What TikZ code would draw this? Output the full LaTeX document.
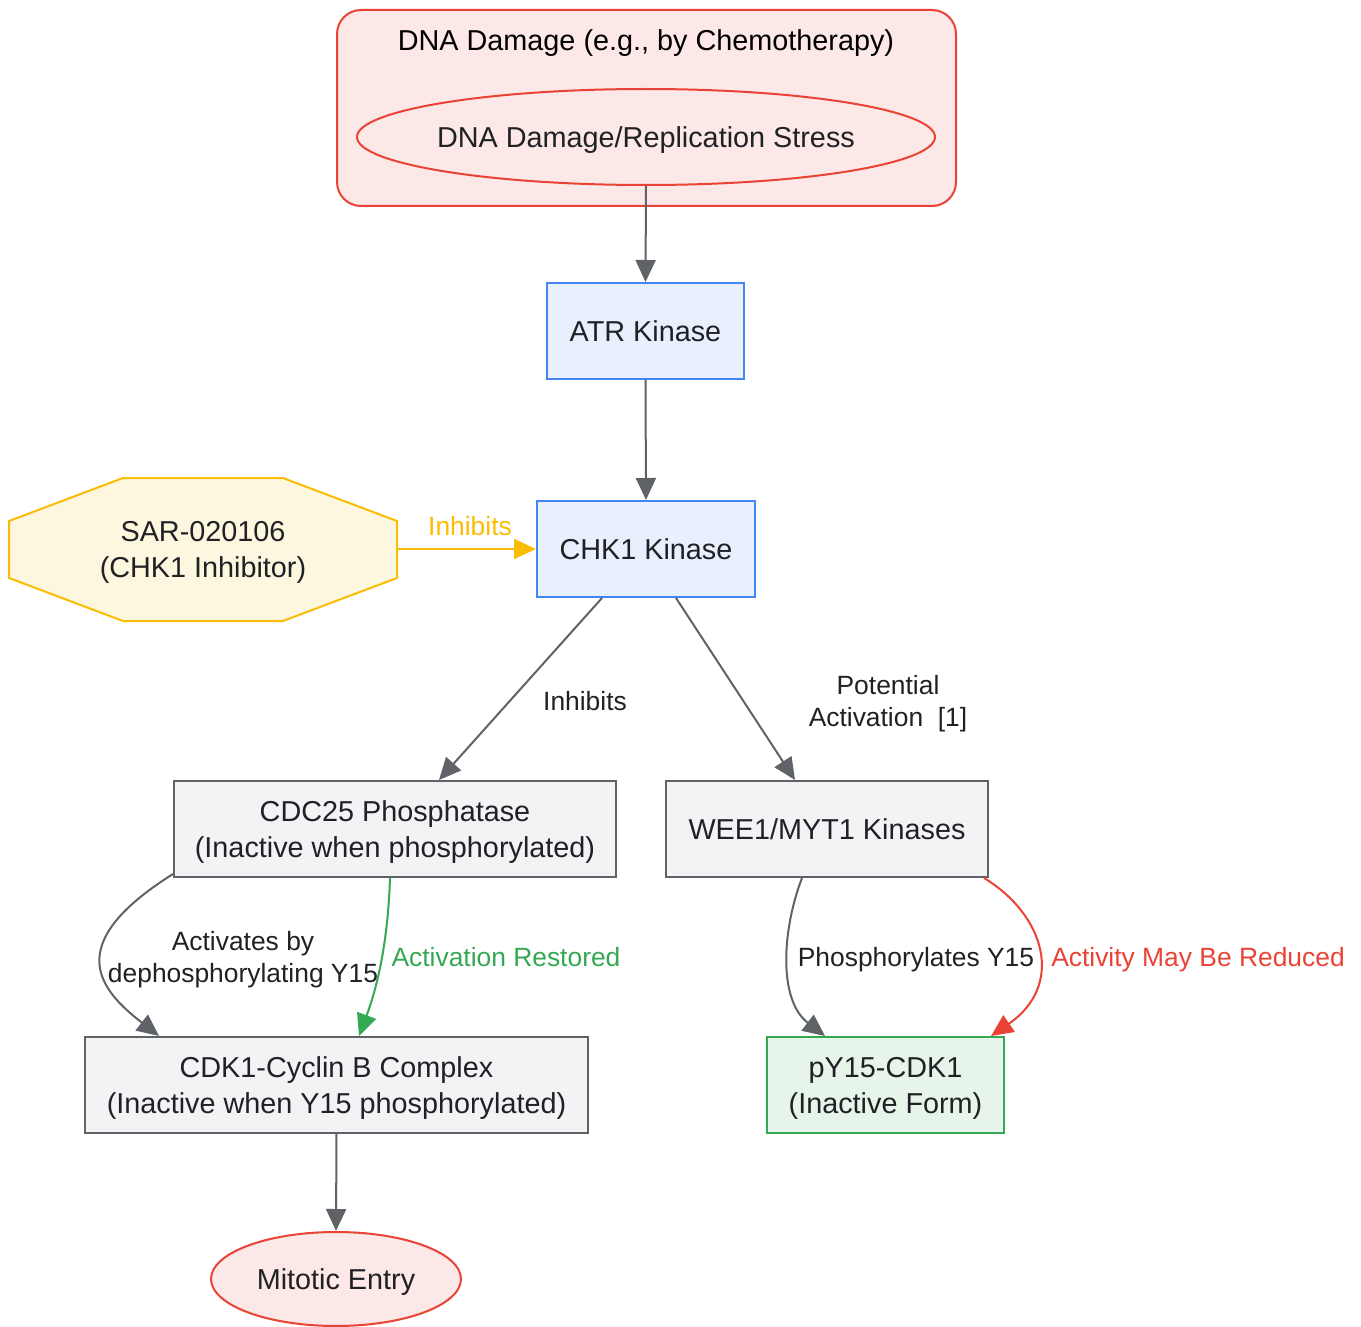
\documentclass[tikz,border=0pt]{standalone}
\usepackage{fontspec}
\setmainfont{Liberation Sans}
\usetikzlibrary{arrows.meta,shapes.geometric,calc}
\definecolor{gedge}{HTML}{5F6368}
\definecolor{txt}{HTML}{202124}
\definecolor{rline}{HTML}{EA4335}
\definecolor{rfill}{HTML}{FCE8E6}
\definecolor{bline}{HTML}{4285F4}
\definecolor{bfill}{HTML}{E8F0FE}
\definecolor{yline}{HTML}{FBBC04}
\definecolor{yfill}{HTML}{FEF7E0}
\definecolor{gline}{HTML}{34A853}
\definecolor{gfill}{HTML}{E6F4EA}
\definecolor{nfill}{HTML}{F1F3F4}
\begin{document}
\begin{tikzpicture}[x=0.5pt,y=-0.5pt,
  nodefont/.style={font=\fontsize{14.4}{18}\selectfont, text=txt, text depth=0pt},
  lblfont/.style={font=\fontsize{13.2}{16}\selectfont, text=txt, align=center, inner sep=0pt, text depth=0pt},
  basebox/.style={draw, line width=1pt, inner sep=0pt, align=center, nodefont},
  bluebox/.style={basebox, draw=bline, fill=bfill},
  graybox/.style={basebox, draw=gedge, fill=nfill},
  greenbox/.style={basebox, draw=gline, fill=gfill},
  redell/.style={basebox, ellipse, draw=rline, fill=rfill},
  edge/.style={draw=gedge, line width=1pt, -{Triangle[length=11pt,width=10pt]}},
]
\useasboundingbox (0,0) rectangle (1361,1327);

% cluster
\node[draw=rline, fill=rfill, line width=1pt, rounded corners=12pt,
      minimum width=309.5pt, minimum height=98pt, inner sep=0pt] (cluster) at (646.5,108) {};
\node[font=\fontsize{14.4}{18}\selectfont, text=black, inner sep=0pt, text depth=0pt] (clusterlbl) at (646,40) {DNA Damage (e.g., by Chemotherapy)};

\node[redell, inner xsep=-40pt, minimum width=289pt, minimum height=48pt] (dna) at (646,137) {DNA Damage/Replication Stress};
\node[bluebox, minimum width=98.5pt, minimum height=48pt] (atr) at (645.5,331) {ATR Kinase};
\node[bluebox, minimum width=109pt, minimum height=48pt] (chk1) at (646,549) {CHK1 Kinase};

% octagon inhibitor
\draw[draw=yline, fill=yfill, line width=1pt]
  (123,478) -- (283,478) -- (397,521) -- (397,578) -- (283,621) -- (123,621) -- (9,578) -- (9,521) -- cycle;
\node[nodefont, align=center, minimum width=194pt, minimum height=71.5pt, inner sep=0pt] (sar) at (203,549) {SAR-020106\\(CHK1 Inhibitor)};

\node[graybox, minimum width=221pt, minimum height=48pt] (cdc25) at (395,829) {CDC25 Phosphatase\\(Inactive when phosphorylated)};
\node[graybox, minimum width=161pt, minimum height=48pt] (wee1) at (827,829) {WEE1/MYT1 Kinases};
\node[graybox, minimum width=251.5pt, minimum height=48pt] (cdk1) at (336.5,1085) {CDK1-Cyclin B Complex\\(Inactive when Y15 phosphorylated)};
\node[greenbox, minimum width=118.5pt, minimum height=48pt] (py15) at (885.5,1085) {pY15-CDK1\\(Inactive Form)};
\node[redell, minimum width=125pt, minimum height=47pt] (mit) at (336,1279) {Mitotic Entry};

% edges
\draw[edge] (dna.south) -- (atr.north);
\draw[edge] (atr.south) -- (chk1.north);
\draw[edge, draw=yline, -{Triangle[length=11pt,width=10pt,fill=yline]}] (sar.east) -- (chk1.west);
\draw[edge] ($(chk1.south west)+(66,0)$) -- ($(cdc25.north west)+(266,0)$);
\draw[edge] ($(chk1.south west)+(140,0)$) -- ($(wee1.north west)+(130,0)$);
\draw[edge] ($(cdc25.south west)+(0,-4)$) .. controls (60,945) and (100,990) .. ($(cdk1.north west)+(75,0)$);
\draw[edge, draw=gline] ($(cdc25.south west)+(217,0)$) .. controls (388,940) and (378,985) .. ($(cdk1.north west)+(275,0)$);
\draw[edge] ($(wee1.south west)+(137,0)$) .. controls (782,930) and (778,1000) .. ($(py15.north west)+(59,0)$);
\draw[edge, draw=rline] ($(wee1.south east)+(-5,0)$) .. controls (1045,915) and (1065,985) .. ($(py15.north east)+(-14,0)$);
\draw[edge] (cdk1.south) -- (mit.north);

% labels
\node[lblfont, text=yline] (l1) at (470,526) {Inhibits};
\node[lblfont] (l2) at (585,701) {Inhibits};
\node[lblfont] (l3) at (888,701) {Potential\\Activation~~[1]};
\node[lblfont] (l4) at (243,957) {Activates by\\dephosphorylating Y15};
\node[lblfont, text=gline] (l5) at (506,957) {Activation Restored};
\node[lblfont] (l6) at (916,957) {Phosphorylates Y15};
\node[lblfont, text=rline] (l7) at (1198,957) {Activity May Be Reduced};
\end{tikzpicture}
\end{document}
